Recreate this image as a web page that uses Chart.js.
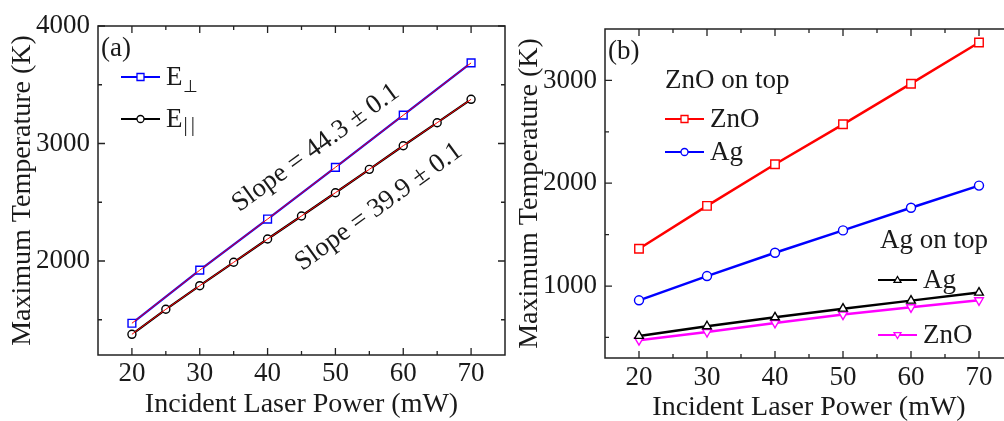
<!DOCTYPE html>
<html>
<head>
<meta charset="utf-8">
<script src="https://cdn.jsdelivr.net/npm/chart.js@4.4.1/dist/chart.umd.min.js"></script>
<style>
  html, body { margin: 0; padding: 0; background: #fff; width: 1004px; height: 421px; overflow: hidden; }
  #wrapA { position: absolute; left: 0; top: 0; width: 510px; height: 421px; }
  #wrapB { position: absolute; left: 505px; top: 0; width: 520px; height: 421px; }
</style>
</head>
<body>
<div id="wrapA"><canvas id="chartA" width="510" height="421"></canvas></div>
<div id="wrapB"><canvas id="chartB" width="520" height="421"></canvas></div>
<script>
// panel (a): polarisation dependence
var powerA = [20, 30, 40, 50, 60, 70];
var powerA5 = [20, 25, 30, 35, 40, 45, 50, 55, 60, 65, 70];
var tempPerp = [1470, 1922, 2357, 2797, 3241, 3686];
var tempPara = [1376, 1589, 1790, 1989, 2187, 2383, 2581, 2780, 2981, 3177, 3376];
var xTicksA = [20, 30, 40, 50, 60, 70];
var xMinorA = [25, 35, 45, 55, 65];
var yTicksA = [2000, 3000, 4000];
var yMinorA = [1500, 2500, 3500];

// panel (b): layer order
var powerB = [20, 30, 40, 50, 60, 70];
var znoTopZnO = [1363, 1780, 2185, 2573, 2968, 3369];
var znoTopAg = [861, 1097, 1324, 1541, 1761, 1977];
var agTopAg = [515, 609, 696, 780, 858, 936];
var agTopZnO = [473, 553, 641, 722, 793, 861];
var xTicksB = [20, 30, 40, 50, 60, 70];
var xMinorB = [25, 35, 45, 55, 65];
var yTicksB = [1000, 2000, 3000];
var yMinorB = [500, 1500, 2500];

var SERIF = "'Liberation Serif', 'Times New Roman', serif";
Chart.defaults.font.family = SERIF;
Chart.defaults.color = '#1a1a1a';

function pts(xs, ys) {
  return xs.map(function (x, i) { return { x: x, y: ys[i] }; });
}

function marker(ctx, style, x, y, r, color) {
  ctx.save();
  ctx.fillStyle = '#fff';
  ctx.strokeStyle = color;
  ctx.lineWidth = 1.3;
  ctx.beginPath();
  if (style === 'rect') {
    ctx.rect(x - r, y - r, 2 * r, 2 * r);
  } else if (style === 'circle') {
    ctx.arc(x, y, r, 0, Math.PI * 2);
  } else if (style === 'triangle') {
    ctx.moveTo(x, y - r); ctx.lineTo(x + r, y + r * 0.7); ctx.lineTo(x - r, y + r * 0.7); ctx.closePath();
  } else {
    ctx.moveTo(x, y + r); ctx.lineTo(x + r, y - r * 0.7); ctx.lineTo(x - r, y - r * 0.7); ctx.closePath();
  }
  ctx.fill();
  ctx.stroke();
  ctx.restore();
}

// box frame with inward ticks on all four sides
var frameTicks = {
  id: 'frameTicks',
  afterDatasetsDraw: function (chart, args, o) {
    var ctx = chart.ctx, a = chart.chartArea, x = chart.scales.x, y = chart.scales.y;
    ctx.save();
    ctx.strokeStyle = '#222';
    ctx.lineWidth = 1.5;
    ctx.strokeRect(a.left, a.top, a.right - a.left, a.bottom - a.top);
    ctx.lineWidth = 1.3;
    ctx.beginPath();
    function xt(list, len) {
      list.forEach(function (v) {
        var p = x.getPixelForValue(v);
        ctx.moveTo(p, a.bottom); ctx.lineTo(p, a.bottom - len);
        ctx.moveTo(p, a.top); ctx.lineTo(p, a.top + len);
      });
    }
    function yt(list, len) {
      list.forEach(function (v) {
        var p = y.getPixelForValue(v);
        ctx.moveTo(a.left, p); ctx.lineTo(a.left + len, p);
        ctx.moveTo(a.right, p); ctx.lineTo(a.right - len, p);
      });
    }
    xt(o.xMajor, 7); xt(o.xMinor, 4);
    yt(o.yMajor, 7); yt(o.yMinor, 4);
    ctx.stroke();
    ctx.restore();
  }
};

// panel letter, legend entries and rotated slope notes
var notes = {
  id: 'notes',
  afterDraw: function (chart, args, o) {
    var ctx = chart.ctx, a = chart.chartArea, x = chart.scales.x, y = chart.scales.y;
    ctx.save();
    ctx.fillStyle = '#1a1a1a';
    ctx.textBaseline = 'alphabetic';
    ctx.font = '27px ' + SERIF;
    ctx.fillText(o.letter, a.left + 3, a.top + 30);
    (o.headers || []).forEach(function (h) {
      ctx.font = '27px ' + SERIF;
      ctx.fillText(h.text, a.left + h.dx, a.top + h.dy);
    });
    (o.items || []).forEach(function (it) {
      var ly = a.top + it.dy;
      ctx.strokeStyle = it.color;
      ctx.lineWidth = 2.2;
      ctx.beginPath();
      ctx.moveTo(a.left + it.dx, ly);
      ctx.lineTo(a.left + it.dx + 39, ly);
      ctx.stroke();
      marker(ctx, it.style, a.left + it.dx + 19.5, ly, 3.5, it.color);
      ctx.fillStyle = '#1a1a1a';
      ctx.font = '27px ' + SERIF;
      ctx.fillText(it.text, a.left + it.dx + 45, ly + 8);
      if (it.sub) {
        var w = ctx.measureText(it.text).width;
        ctx.font = it.subSize + 'px ' + SERIF;
        ctx.letterSpacing = it.subSpacing || '0px';
        ctx.fillText(it.sub, a.left + it.dx + 46 + w, ly + it.subDy);
        ctx.letterSpacing = '0px';
      }
    });
    (o.slopes || []).forEach(function (s) {
      ctx.save();
      ctx.translate(x.getPixelForValue(s.x), y.getPixelForValue(s.y));
      ctx.rotate(-s.angle * Math.PI / 180);
      ctx.font = '27px ' + SERIF;
      ctx.textAlign = 'center';
      ctx.textBaseline = 'middle';
      ctx.fillStyle = '#1a1a1a';
      ctx.fillText(s.text, 0, 0);
      ctx.restore();
    });
    ctx.restore();
  }
};

function axes(xMin, xMax, yMin, yMax, xTicks, yTicks, yWidth, xHeight, yTitlePad, xTitlePad, xTickPad) {
  return {
    x: {
      type: 'linear', min: xMin, max: xMax,
      grid: { display: false, drawTicks: false },
      border: { display: false },
      afterBuildTicks: function (s) { s.ticks = xTicks.map(function (v) { return { value: v }; }); },
      afterFit: function (s) { s.height = xHeight; },
      ticks: { font: { size: 27 }, padding: xTickPad, maxRotation: 0, callback: function (v) { return String(v); } },
      title: { display: true, text: 'Incident Laser Power (mW)', font: { size: 28 }, padding: { top: 0, bottom: xTitlePad } }
    },
    y: {
      type: 'linear', min: yMin, max: yMax,
      grid: { display: false, drawTicks: false },
      border: { display: false },
      afterBuildTicks: function (s) { s.ticks = yTicks.map(function (v) { return { value: v }; }); },
      afterFit: function (s) { s.width = yWidth; },
      ticks: { font: { size: 27 }, padding: 8, callback: function (v) { return String(v); } },
      title: { display: true, text: 'Maximum Temperature (K)', font: { size: 28 }, padding: { top: yTitlePad, bottom: 0 } }
    }
  };
}

function line(label, data, color, style, radius, width, rotation) {
  return {
    label: label, data: data, borderColor: color, borderWidth: width,
    pointStyle: style, pointRadius: radius, pointRotation: rotation || 0,
    pointBackgroundColor: '#fff', pointBorderColor: color, pointBorderWidth: 1.4,
    fill: false, tension: 0
  };
}

new Chart(document.getElementById('chartA'), {
  type: 'line',
  data: {
    datasets: [
      { label: 'fit perp', data: pts(powerA, tempPerp), borderColor: '#ff0000', borderWidth: 1, pointRadius: 0, fill: false },
      { label: 'fit para', data: pts(powerA5, tempPara), borderColor: '#ff0000', borderWidth: 1, pointRadius: 0, fill: false },
      line('E⊥', pts(powerA, tempPerp), '#0000ff', 'rect', 5.5, 2.2),
      line('E||', pts(powerA5, tempPara), '#000000', 'circle', 4, 2.2)
    ]
  },
  options: {
    responsive: false,
    animation: false,
    layout: { padding: { left: 0, top: 26, right: 5, bottom: 0 }, autoPadding: false },
    scales: axes(15, 75, 1200, 4000, xTicksA, yTicksA, 98, 66, 6, 0, 3),
    plugins: {
      legend: { display: false },
      tooltip: { enabled: false },
      frameTicks: { xMajor: xTicksA, xMinor: xMinorA, yMajor: yTicksA, yMinor: yMinorA },
      notes: {
        letter: '(a)',
        items: [
          { text: 'E', sub: '⊥', subSize: 17, subDy: 15, dx: 23, dy: 51, color: '#0000ff', style: 'rect' },
          { text: 'E', sub: '||', subSize: 21, subDy: 12, subSpacing: '3px', dx: 23, dy: 93, color: '#000000', style: 'circle' }
        ],
        slopes: [
          { text: 'Slope = 44.3 ± 0.1', x: 47.1, y: 2962, angle: 36 },
          { text: 'Slope = 39.9 ± 0.1', x: 56.4, y: 2460, angle: 36 }
        ]
      }
    }
  },
  plugins: [frameTicks, notes]
});

new Chart(document.getElementById('chartB'), {
  type: 'line',
  data: {
    datasets: [
      line('ZnO', pts(powerB, znoTopZnO), '#ff0000', 'rect', 6, 2.5),
      line('Ag', pts(powerB, znoTopAg), '#0000ff', 'circle', 4.5, 2.5),
      line('Ag', pts(powerB, agTopAg), '#000000', 'triangle', 5, 2.5),
      line('ZnO', pts(powerB, agTopZnO), '#ff00ff', 'triangle', 5, 2.5, 180)
    ]
  },
  options: {
    responsive: false,
    animation: false,
    layout: { padding: { left: 0, top: 29, right: 12, bottom: 0 }, autoPadding: false },
    scales: axes(15, 75, 300, 3500, xTicksB, yTicksB, 100, 63, 8, -3, 4),
    plugins: {
      legend: { display: false },
      tooltip: { enabled: false },
      frameTicks: { xMajor: xTicksB, xMinor: xMinorB, yMajor: yTicksB, yMinor: yMinorB },
      notes: {
        letter: '(b)',
        headers: [
          { text: 'ZnO on top', dx: 60, dy: 59 },
          { text: 'Ag on top', dx: 275, dy: 219 }
        ],
        items: [
          { text: 'ZnO', dx: 60, dy: 90, color: '#ff0000', style: 'rect' },
          { text: 'Ag', dx: 60, dy: 123, color: '#0000ff', style: 'circle' },
          { text: 'Ag', dx: 273, dy: 251, color: '#000000', style: 'triangle' },
          { text: 'ZnO', dx: 273, dy: 306, color: '#ff00ff', style: 'triangleDown' }
        ]
      }
    }
  },
  plugins: [frameTicks, notes]
});
</script>
</body>
</html>
